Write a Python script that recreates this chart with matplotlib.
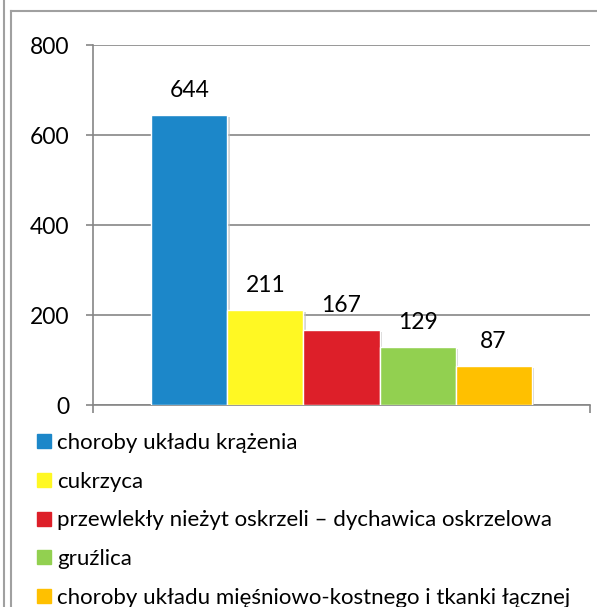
import matplotlib.pyplot as plt
from matplotlib.lines import Line2D
import matplotlib.patheffects as pe

# data
categories = ["choroby układu krążenia", "cukrzyca",
              "przewlekły nieżyt oskrzeli – dychawica oskrzelowa",
              "gruźlica", "choroby układu mięśniowo-kostnego i tkanki łącznej"]
values = [644, 211, 167, 129, 87]
colors = ["#1c87c9", "#fff823", "#dd1f29", "#92d050", "#ffc000"]
yticks = [0, 200, 400, 600, 800]

plt.rcParams['font.family'] = ['Lato', 'DejaVu Sans']
W, H = 597, 607
fig = plt.figure(figsize=(W / 100, H / 100), dpi=100)
ax = fig.add_axes([93 / W, 202 / H, 497 / W, 360 / H])

grid_c = "#868686"
bw = 0.153
n = len(values)
for i, (v, c, lab) in enumerate(zip(values, colors, categories)):
    x = (i - (n - 1) / 2) * bw
    b = ax.bar(x, v, width=bw, color=c, edgecolor="white", linewidth=1,
               label=lab, zorder=3)
    b[0].set_path_effects([pe.SimplePatchShadow(offset=(1.5, -1.5), shadow_rgbFace="#bbbbbb", alpha=0.6),
                           pe.Normal()])
    ax.annotate(str(v), (x, v), xytext=(0, 10), textcoords="offset points",
                ha="center", va="bottom", fontsize=16.5)

ax.set_xlim(-0.5, 0.5)
ax.set_ylim(0, 800)
ax.set_yticks(yticks)
ax.set_xticks([-0.5, 0.5])
ax.set_xticklabels([])
ax.yaxis.grid(True, color=grid_c, linewidth=1.2, zorder=0)
ax.set_axisbelow(True)
for s in ["top", "right"]:
    ax.spines[s].set_visible(False)
for s in ["left", "bottom"]:
    ax.spines[s].set_color(grid_c)
    ax.spines[s].set_linewidth(1.2)
ax.tick_params(axis="y", length=5, width=1.2, color=grid_c, labelsize=16.5, pad=12)
ax.tick_params(axis="x", length=6, width=1.2, color=grid_c)

handles = [Line2D([], [], marker="s", linestyle="", markersize=9.5, color=c) for c in colors]
fig.legend(handles, categories, loc="upper left", bbox_to_anchor=(38 / W, 1 - 433 / H),
           frameon=False, fontsize=16, handlelength=0.55, handletextpad=0.3,
           labelspacing=0.84, borderaxespad=0, borderpad=0)

# chart frame
fc = "#a0a0a0"
fig.add_artist(Line2D([4 / W, 4 / W], [0, 1], color=fc, linewidth=1.5))
fig.add_artist(Line2D([11 / W, 11 / W], [0, 1 - 10.5 / H], color=fc, linewidth=1.5))
fig.add_artist(Line2D([11 / W, 1], [1 - 10.5 / H, 1 - 10.5 / H], color=fc, linewidth=1.5))

fig.savefig("out.png", dpi=100)
